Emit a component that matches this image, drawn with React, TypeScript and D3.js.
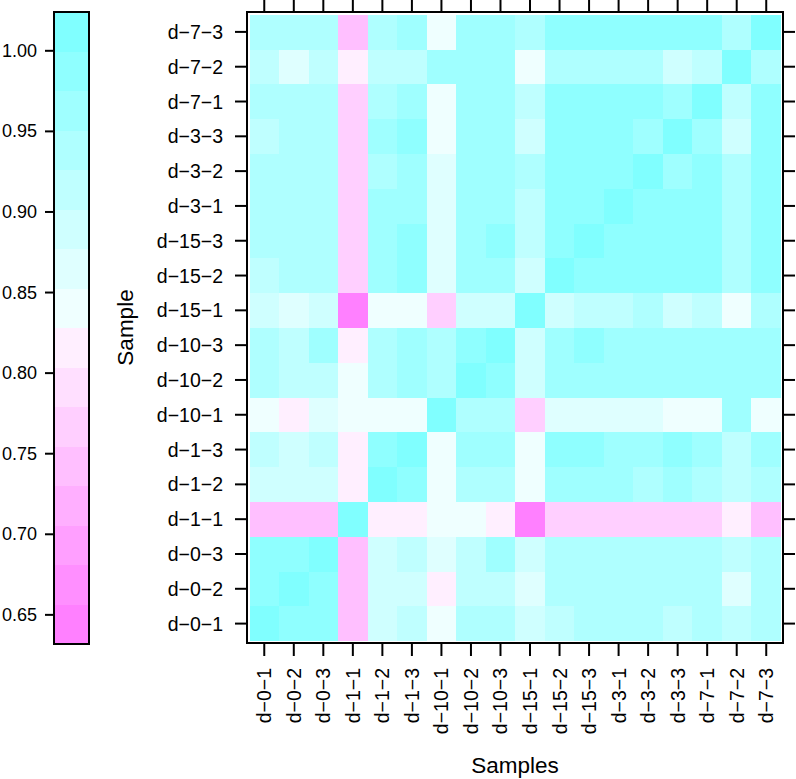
import React from "react";
import * as d3 from "d3";

const samples = [
  "d-0-1", "d-0-2", "d-0-3", "d-1-1", "d-1-2", "d-1-3",
  "d-10-1", "d-10-2", "d-10-3", "d-15-1", "d-15-2", "d-15-3",
  "d-3-1", "d-3-2", "d-3-3", "d-7-1", "d-7-2", "d-7-3",
];

// correlation rows, in the same order as samples
const r_d0_1 = [1.000, 0.987, 0.987, 0.743, 0.890, 0.914, 0.841, 0.939, 0.939, 0.890, 0.914, 0.939, 0.939, 0.939, 0.914, 0.939, 0.914, 0.939];
const r_d0_2 = [0.987, 1.000, 0.987, 0.743, 0.890, 0.890, 0.816, 0.914, 0.914, 0.865, 0.939, 0.939, 0.939, 0.939, 0.939, 0.939, 0.865, 0.939];
const r_d0_3 = [0.987, 0.987, 1.000, 0.743, 0.890, 0.914, 0.865, 0.914, 0.963, 0.890, 0.939, 0.939, 0.939, 0.939, 0.939, 0.939, 0.914, 0.939];
const r_d1_1 = [0.743, 0.743, 0.743, 1.000, 0.816, 0.816, 0.841, 0.841, 0.816, 0.656, 0.768, 0.768, 0.768, 0.768, 0.768, 0.768, 0.816, 0.743];
const r_d1_2 = [0.890, 0.890, 0.890, 0.816, 1.000, 0.987, 0.841, 0.939, 0.939, 0.841, 0.963, 0.963, 0.963, 0.939, 0.963, 0.939, 0.914, 0.939];
const r_d1_3 = [0.914, 0.890, 0.914, 0.816, 0.987, 1.000, 0.841, 0.963, 0.963, 0.841, 0.987, 0.987, 0.963, 0.963, 0.987, 0.963, 0.914, 0.963];
const r_d10_1 = [0.841, 0.816, 0.865, 0.841, 0.841, 0.841, 1.000, 0.939, 0.939, 0.768, 0.865, 0.865, 0.865, 0.865, 0.841, 0.841, 0.963, 0.841];
const r_d10_2 = [0.939, 0.914, 0.914, 0.841, 0.939, 0.963, 0.939, 1.000, 0.987, 0.890, 0.963, 0.963, 0.963, 0.963, 0.963, 0.963, 0.963, 0.963];
const r_d10_3 = [0.939, 0.914, 0.963, 0.816, 0.939, 0.963, 0.939, 0.987, 1.000, 0.890, 0.963, 0.987, 0.963, 0.963, 0.963, 0.963, 0.963, 0.963];
const r_d15_1 = [0.890, 0.865, 0.890, 0.656, 0.841, 0.841, 0.768, 0.890, 0.890, 1.000, 0.890, 0.914, 0.914, 0.939, 0.890, 0.914, 0.841, 0.939];
const r_d15_2 = [0.914, 0.939, 0.939, 0.768, 0.963, 0.987, 0.865, 0.963, 0.963, 0.890, 1.000, 0.987, 0.987, 0.987, 0.987, 0.987, 0.939, 0.987];
const r_d15_3 = [0.939, 0.939, 0.939, 0.768, 0.963, 0.987, 0.865, 0.963, 0.987, 0.914, 0.987, 1.000, 0.987, 0.987, 0.987, 0.987, 0.939, 0.987];
const r_d3_1 = [0.939, 0.939, 0.939, 0.768, 0.963, 0.963, 0.865, 0.963, 0.963, 0.914, 0.987, 0.987, 1.000, 0.987, 0.987, 0.987, 0.939, 0.987];
const r_d3_2 = [0.939, 0.939, 0.939, 0.768, 0.939, 0.963, 0.865, 0.963, 0.963, 0.939, 0.987, 0.987, 0.987, 1.000, 0.963, 0.987, 0.939, 0.987];
const r_d3_3 = [0.914, 0.939, 0.939, 0.768, 0.963, 0.987, 0.841, 0.963, 0.963, 0.890, 0.987, 0.987, 0.987, 0.963, 1.000, 0.963, 0.890, 0.987];
const r_d7_1 = [0.939, 0.939, 0.939, 0.768, 0.939, 0.963, 0.841, 0.963, 0.963, 0.914, 0.987, 0.987, 0.987, 0.987, 0.963, 1.000, 0.914, 0.987];
const r_d7_2 = [0.914, 0.865, 0.914, 0.816, 0.914, 0.914, 0.963, 0.963, 0.963, 0.841, 0.939, 0.939, 0.939, 0.939, 0.890, 0.914, 1.000, 0.939];
const r_d7_3 = [0.939, 0.939, 0.939, 0.743, 0.939, 0.963, 0.841, 0.963, 0.963, 0.939, 0.987, 0.987, 0.987, 0.987, 0.987, 0.987, 0.939, 1.000];

const corrRows = [
  r_d0_1, r_d0_2, r_d0_3, r_d1_1, r_d1_2, r_d1_3,
  r_d10_1, r_d10_2, r_d10_3, r_d15_1, r_d15_2, r_d15_3,
  r_d3_1, r_d3_2, r_d3_3, r_d7_1, r_d7_2, r_d7_3,
];

const keyTicks = [0.65, 0.70, 0.75, 0.80, 0.85, 0.90, 0.95, 1.00];

// 16 region colours, low -> high (magenta -> white -> cyan)
const regionColors = [
  "#FF80FF", "#FF8FFF", "#FF9FFF", "#FFAFFF", "#FFBFFF", "#FFCFFF", "#FFDFFF", "#FFEFFF",
  "#EFFFFF", "#DFFFFF", "#CFFFFF", "#BFFFFF", "#AFFFFF", "#9FFFFF", "#8FFFFF", "#80FFFF",
];

const FONT = "'Liberation Sans', Arial, Helvetica, sans-serif";

export default function App() {
  const n = samples.length;
  const all = corrRows.flat();
  const [zmin, zmax] = d3.extent(all) as [number, number];
  const pad = 0.07 * (zmax - zmin);
  const lo = zmin - pad;
  const hi = zmax + pad;
  const at = d3.range(regionColors.length + 1).map((i) => lo + (i * (hi - lo)) / regionColors.length);
  const color = d3.scaleThreshold<number, string>().domain(at.slice(1, -1)).range(regionColors);

  // panel
  const box = { left: 247, right: 783, top: 12, bottom: 643 };
  const x = d3.scaleLinear().domain([0.5, n + 0.5]).range([249.5, 781]);
  const y = d3.scaleLinear().domain([0.5, n + 0.5]).range([641, 14.5]);

  // colour key
  const key = { left: 54, right: 89, top: 12, bottom: 644 };
  const ky = d3.scaleLinear().domain([lo, hi]).range([key.bottom, key.top]);

  const lab = (s: string) => s.replace(/-/g, "\u2212");
  const tickFont = 19.5;
  const keyFont = 18;
  const titleFont = 22.5;

  const cells: React.ReactNode[] = [];
  corrRows.forEach((row, ri) => {
    row.forEach((v, ci) => {
      const x0 = x(ci + 0.5);
      const x1 = x(ci + 1.5);
      const y0 = y(ri + 1.5);
      const y1 = y(ri + 0.5);
      cells.push(
        <rect key={`c${ri}-${ci}`} x={x0} y={y0} width={x1 - x0 + 0.3} height={y1 - y0 + 0.3}
          fill={color(v)} shapeRendering="crispEdges" />
      );
    });
  });

  return (
    <svg width={796} height={779} style={{ position: "absolute", left: 0, top: 0, background: "#fff" }}
      fontFamily={FONT}>
      {/* colour key */}
      {at.slice(0, -1).map((a, i) => (
        <rect key={`k${i}`} x={key.left} y={ky(at[i + 1])} width={key.right - key.left}
          height={ky(a) - ky(at[i + 1]) + 0.3} fill={regionColors[i]} shapeRendering="crispEdges" />
      ))}
      <rect x={key.left} y={key.top} width={key.right - key.left} height={key.bottom - key.top}
        fill="none" stroke="#000" strokeWidth={2} />
      {keyTicks.map((t) => (
        <g key={`kt${t}`}>
          <line x1={45} x2={key.left} y1={ky(t)} y2={ky(t)} stroke="#000" strokeWidth={2} />
          <text x={37} y={ky(t)} textAnchor="end" dominantBaseline="central" fontSize={keyFont}>
            {t.toFixed(2)}
          </text>
        </g>
      ))}

      {/* heatmap cells */}
      {cells}

      {/* panel box */}
      <rect x={box.left} y={box.top} width={box.right - box.left} height={box.bottom - box.top}
        fill="none" stroke="#000" strokeWidth={2} />

      {/* ticks and labels */}
      {samples.map((s, i) => {
        const cx = x(i + 1);
        const cy = y(i + 1);
        return (
          <g key={`t${i}`}>
            {/* left */}
            <line x1={235} x2={box.left} y1={cy} y2={cy} stroke="#000" strokeWidth={2} />
            <text x={223} y={cy} textAnchor="end" dominantBaseline="central" fontSize={tickFont}>
              {lab(s)}
            </text>
            {/* right */}
            <line x1={box.right} x2={795} y1={cy} y2={cy} stroke="#000" strokeWidth={2} />
            {/* top */}
            <line x1={cx} x2={cx} y1={0} y2={box.top} stroke="#000" strokeWidth={2} />
            {/* bottom */}
            <line x1={cx} x2={cx} y1={box.bottom} y2={656} stroke="#000" strokeWidth={2} />
            <text transform={`translate(${cx},668) rotate(-90)`} textAnchor="end"
              dominantBaseline="central" fontSize={tickFont}>
              {lab(s)}
            </text>
          </g>
        );
      })}

      {/* axis titles */}
      <text transform={`translate(125,${(box.top + box.bottom) / 2}) rotate(-90)`} textAnchor="middle"
        dominantBaseline="central" fontSize={titleFont}>
        Sample
      </text>
      <text x={(box.left + box.right) / 2} y={773} textAnchor="middle" fontSize={titleFont}>
        Samples
      </text>
    </svg>
  );
}
